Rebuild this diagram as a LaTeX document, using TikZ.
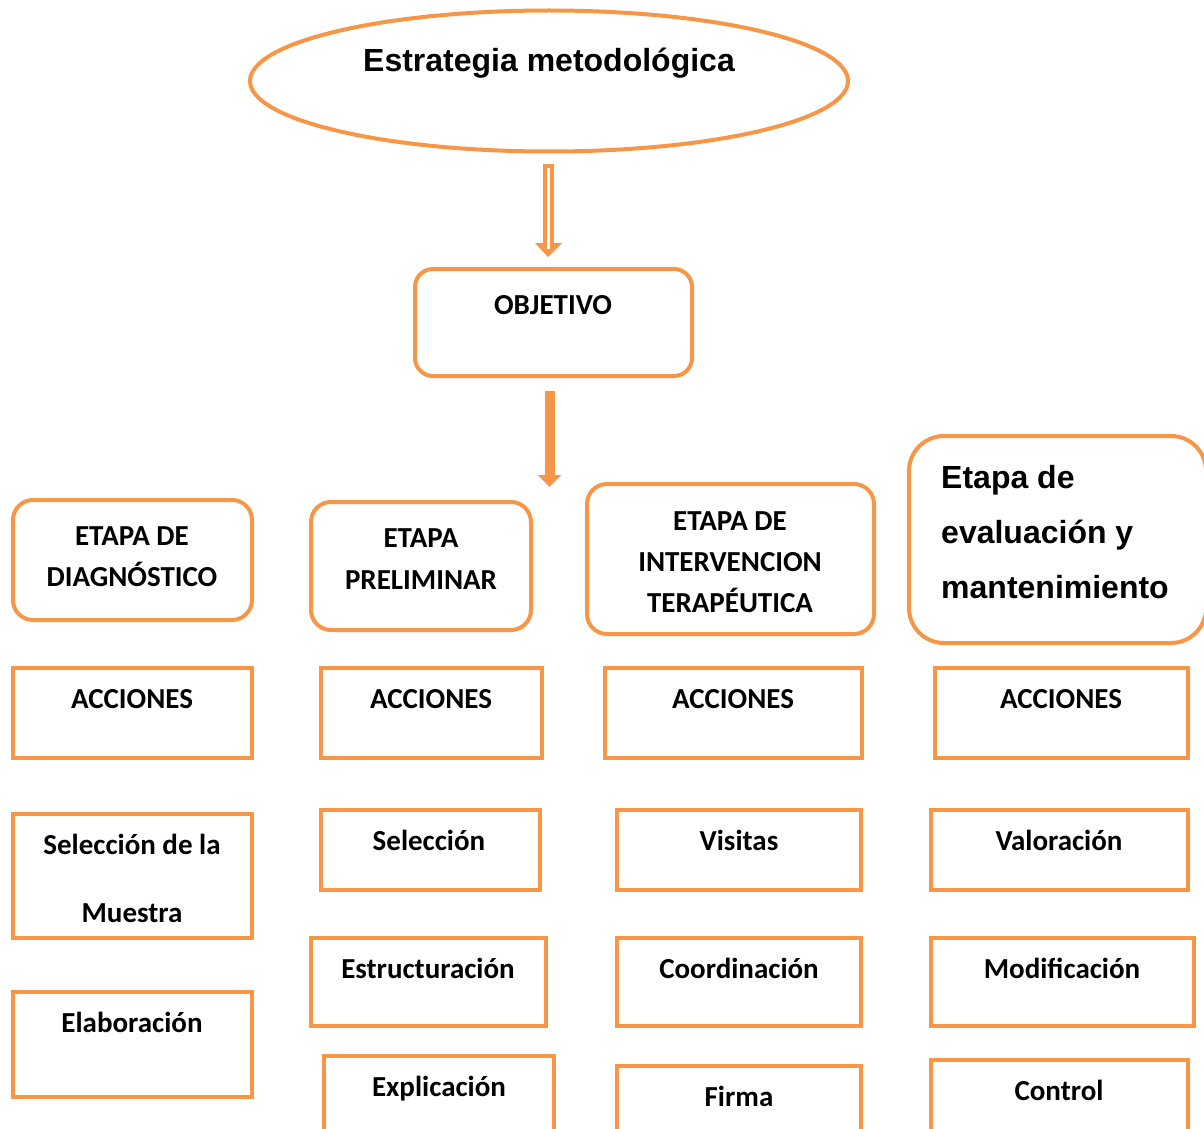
\documentclass[tikz,border=0pt]{standalone}
\usepackage{fontspec}
\setmainfont{Carlito}
\newfontfamily\arialf{Liberation Sans}
\usetikzlibrary{arrows.meta,shapes.geometric}
\definecolor{org}{HTML}{F79646}
\begin{document}
\begin{tikzpicture}[x=1pt,y=-1pt,
  sq/.style={draw=org, line width=4pt, inner sep=0pt, outer sep=0pt},
  rb/.style={sq, rounded corners=20pt},
  lbl/.style={anchor=base, inner sep=0pt, font=\fontsize{29}{34}\selectfont\bfseries},
  big/.style={anchor=base west, inner sep=0pt, font=\fontsize{32}{38}\selectfont\arialf\bfseries}]
\useasboundingbox (0,0) rectangle (1204,1129);
\clip (0,0) rectangle (1204,1129);
% title ellipse
\node[sq, ellipse, minimum width=598pt, minimum height=141pt] (ell) at (549,81) {};
\node[anchor=base, inner sep=0pt, font=\fontsize{32}{38}\selectfont\arialf\bfseries] (tit) at (549,72) {Estrategia metodológica};
% hollow arrow
\coordinate (h1) at (548,166);
\filldraw[draw=org, fill=white, line width=4pt, line join=miter]
  (544.5,166) -- (551.5,166) -- (551.5,245) -- (544.5,245) -- cycle;
\fill[org] (535,243) -- (562,243) -- (548,257) -- cycle;
\fill[white] (546.5,240) rectangle (549.5,249);
% objective
\node[rb, rounded corners=18pt, minimum width=277pt, minimum height=107pt] (obj) at (553.5,322.5) {};
\node[lbl] (objt) at (553,314) {OBJETIVO};
% solid arrow
\coordinate (s1) at (549.5,391);
\coordinate (s2) at (549.5,487);
\draw[org, line width=10pt, -{Triangle[width=23pt,length=12pt]}] (s1) -- (s2);
% etapas
\node[rb, minimum width=239pt, minimum height=120pt] (e1) at (132.5,560) {};
\node[lbl] (e1a) at (132,545) {ETAPA DE};
\node[lbl] (e1b) at (132,586) {DIAGNÓSTICO};
\node[rb, minimum width=220pt, minimum height=128pt] (e2) at (421,566) {};
\node[lbl] (e2a) at (421,547) {ETAPA};
\node[lbl] (e2b) at (421,589) {PRELIMINAR};
\node[rb, minimum width=287pt, minimum height=150pt] (e3) at (730.5,559) {};
\node[lbl] (e3a) at (730,530) {ETAPA DE};
\node[lbl] (e3b) at (730,571) {INTERVENCION};
\node[lbl] (e3c) at (730,612) {TERAPÉUTICA};
\node[rb, rounded corners=35pt, minimum width=297pt, minimum height=207pt] (e4) at (1057.5,539.5) {};
\node[big] (e4a) at (941,488) {Etapa de};
\node[big] (e4b) at (941,543) {evaluación y};
\node[big] (e4c) at (941,598) {mantenimiento};
% acciones
\node[sq, minimum width=239pt, minimum height=90pt] (ac1) at (132.5,713) {};
\node[lbl] (ac1t) at (132,708) {ACCIONES};
\node[sq, minimum width=221pt, minimum height=90pt] (ac2) at (431.5,713) {};
\node[lbl] (ac2t) at (431,708) {ACCIONES};
\node[sq, minimum width=257pt, minimum height=90pt] (ac3) at (733.5,713) {};
\node[lbl] (ac3t) at (733,708) {ACCIONES};
\node[sq, minimum width=253pt, minimum height=90pt] (ac4) at (1061.5,713) {};
\node[lbl] (ac4t) at (1061,708) {ACCIONES};
% row 2
\node[sq, minimum width=239pt, minimum height=124pt] (b1) at (132.5,876) {};
\node[lbl] (b1a) at (132,854) {Selección de la};
\node[lbl] (b1b) at (132,922) {Muestra};
\node[sq, minimum width=219pt, minimum height=80pt] (b2) at (430.5,850) {};
\node[lbl] (b2t) at (429,850) {Selección};
\node[sq, minimum width=244pt, minimum height=80pt] (b3) at (739,850) {};
\node[lbl] (b3t) at (739,850) {Visitas};
\node[sq, minimum width=257pt, minimum height=80pt] (b4) at (1059.5,850) {};
\node[lbl] (b4t) at (1059,850) {Valoración};
% row 3
\node[sq, minimum width=239pt, minimum height=105pt] (c1) at (132.5,1044.5) {};
\node[lbl] (c1t) at (132,1032) {Elaboración};
\node[sq, minimum width=235pt, minimum height=88pt] (c2) at (428.5,982) {};
\node[lbl] (c2t) at (428,978) {Estructuración};
\node[sq, minimum width=244pt, minimum height=88pt] (c3) at (739,982) {};
\node[lbl] (c3t) at (739,978) {Coordinación};
\node[sq, minimum width=263pt, minimum height=88pt] (c4) at (1062.5,982) {};
\node[lbl] (c4t) at (1062,978) {Modificación};
% row 4
\node[sq, minimum width=230pt, minimum height=104pt] (d2) at (439,1108) {};
\node[lbl] (d2t) at (439,1096) {Explicación};
\node[sq, minimum width=244pt, minimum height=94pt] (d3) at (739,1113) {};
\node[lbl] (d3t) at (739,1106) {Firma};
\node[sq, minimum width=257pt, minimum height=100pt] (d4) at (1059.5,1110) {};
\node[lbl] (d4t) at (1059,1100) {Control};
\end{tikzpicture}
\end{document}
